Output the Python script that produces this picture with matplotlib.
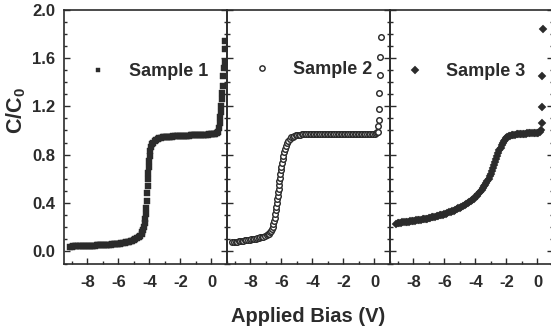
import matplotlib
matplotlib.use("Agg")
import matplotlib.pyplot as plt
from matplotlib.ticker import MultipleLocator

# ---------------- data ----------------
v1 = [-9.1, -9.0, -8.9, -8.8, -8.7, -8.6, -8.5, -8.4, -8.3, -8.2,
      -8.1, -8.0, -7.9, -7.8, -7.7, -7.6, -7.5, -7.4, -7.3, -7.2,
      -7.1, -7.0, -6.9, -6.8, -6.7, -6.6, -6.5, -6.4, -6.3, -6.2,
      -6.1, -6.0, -5.9, -5.8, -5.7, -5.6, -5.5, -5.4, -5.3, -5.2,
      -5.1, -5.0, -4.9, -4.8, -4.7, -4.6, -4.5, -4.45, -4.4, -4.35,
      -4.3, -4.27, -4.24, -4.21, -4.18, -4.15, -4.12, -4.09, -4.06, -4.03,
      -4.0, -3.97, -3.93, -3.88, -3.82, -3.75, -3.65, -3.55, -3.45, -3.35,
      -3.25, -3.15, -3.05, -2.95, -2.85, -2.75, -2.65, -2.55, -2.45, -2.35,
      -2.25, -2.15, -2.05, -1.95, -1.85, -1.75, -1.65, -1.55, -1.45, -1.35,
      -1.25, -1.15, -1.05, -0.95, -0.85, -0.75, -0.65, -0.55, -0.45, -0.35,
      -0.25, -0.15, -0.05, 0.05, 0.15, 0.25, 0.33, 0.4, 0.47, 0.52,
      0.56, 0.6, 0.63, 0.67, 0.7, 0.73, 0.77, 0.8, 0.84, 0.87,
      0.9]
c1 = [0.040, 0.040, 0.041, 0.041, 0.042, 0.042, 0.043, 0.043, 0.044, 0.044,
      0.045, 0.045, 0.046, 0.046, 0.047, 0.047, 0.048, 0.049, 0.050, 0.050,
      0.051, 0.052, 0.053, 0.054, 0.055, 0.056, 0.057, 0.058, 0.059, 0.060,
      0.062, 0.063, 0.065, 0.067, 0.069, 0.071, 0.074, 0.077, 0.080, 0.084,
      0.088, 0.093, 0.100, 0.108, 0.118, 0.130, 0.145, 0.160, 0.180, 0.205,
      0.235, 0.27, 0.31, 0.36, 0.42, 0.48, 0.54, 0.60, 0.65, 0.70,
      0.75, 0.79, 0.83, 0.86, 0.885, 0.90, 0.915, 0.925, 0.931, 0.936,
      0.939, 0.942, 0.944, 0.946, 0.947, 0.948, 0.949, 0.950, 0.951, 0.952,
      0.953, 0.953, 0.954, 0.955, 0.955, 0.956, 0.957, 0.957, 0.958, 0.959,
      0.959, 0.960, 0.961, 0.961, 0.962, 0.963, 0.963, 0.964, 0.965, 0.965,
      0.966, 0.967, 0.967, 0.968, 0.969, 0.972, 0.978, 0.99, 1.02, 1.06,
      1.11, 1.15, 1.20, 1.26, 1.31, 1.37, 1.45, 1.52, 1.57, 1.67,
      1.74]

v2 = [-9.15, -9.05, -8.95, -8.85, -8.75, -8.65, -8.55, -8.45, -8.35, -8.25,
      -8.15, -8.05, -7.95, -7.85, -7.75, -7.65, -7.55, -7.45, -7.35, -7.25,
      -7.15, -7.05, -6.95, -6.87, -6.8, -6.73, -6.67, -6.61, -6.56, -6.51,
      -6.47, -6.43, -6.39, -6.36, -6.33, -6.3, -6.27, -6.24, -6.21, -6.18,
      -6.15, -6.12, -6.09, -6.06, -6.03, -6.0, -5.96, -5.92, -5.87, -5.82,
      -5.76, -5.7, -5.63, -5.55, -5.47, -5.38, -5.28, -5.18, -5.08, -4.98,
      -4.88, -4.78, -4.68, -4.58, -4.48, -4.38, -4.28, -4.18, -4.08, -3.98,
      -3.88, -3.78, -3.68, -3.58, -3.48, -3.38, -3.28, -3.18, -3.08, -2.98,
      -2.88, -2.78, -2.68, -2.58, -2.48, -2.38, -2.28, -2.18, -2.08, -1.98,
      -1.88, -1.78, -1.68, -1.58, -1.48, -1.38, -1.28, -1.18, -1.08, -0.98,
      -0.88, -0.78, -0.68, -0.58, -0.48, -0.38, -0.28, -0.18, -0.08, 0.02,
      0.1, 0.16, 0.2, 0.24, 0.27, 0.3, 0.32, 0.34, 0.36, 0.39]
c2 = [0.075, 0.077, 0.079, 0.081, 0.083, 0.085, 0.087, 0.089, 0.091, 0.093,
      0.095, 0.097, 0.099, 0.101, 0.104, 0.106, 0.109, 0.112, 0.115, 0.118,
      0.122, 0.127, 0.133, 0.140, 0.148, 0.158, 0.170, 0.185, 0.203, 0.225,
      0.25, 0.28, 0.31, 0.34, 0.37, 0.40, 0.43, 0.46, 0.49, 0.52,
      0.55, 0.58, 0.61, 0.64, 0.67, 0.70, 0.73, 0.76, 0.79, 0.82,
      0.85, 0.875, 0.897, 0.915, 0.93, 0.942, 0.950, 0.956, 0.960, 0.963,
      0.965, 0.966, 0.967, 0.968, 0.968, 0.969, 0.969, 0.969, 0.970, 0.970,
      0.970, 0.970, 0.970, 0.970, 0.970, 0.970, 0.970, 0.970, 0.970, 0.970,
      0.970, 0.970, 0.970, 0.970, 0.970, 0.970, 0.970, 0.970, 0.970, 0.970,
      0.970, 0.970, 0.970, 0.970, 0.970, 0.970, 0.970, 0.970, 0.970, 0.970,
      0.970, 0.970, 0.970, 0.970, 0.970, 0.970, 0.970, 0.970, 0.970, 0.971,
      0.975, 0.985, 0.99, 1.035, 1.09, 1.18, 1.31, 1.46, 1.61, 1.77]

v3 = [-9.1, -9.0, -8.9, -8.8, -8.7, -8.6, -8.5, -8.4, -8.3, -8.2,
      -8.1, -8.0, -7.9, -7.8, -7.7, -7.6, -7.5, -7.4, -7.3, -7.2,
      -7.1, -7.0, -6.9, -6.8, -6.7, -6.6, -6.5, -6.4, -6.3, -6.2,
      -6.1, -6.0, -5.9, -5.8, -5.7, -5.6, -5.5, -5.4, -5.3, -5.2,
      -5.1, -5.0, -4.9, -4.8, -4.7, -4.6, -4.5, -4.4, -4.3, -4.2,
      -4.1, -4.0, -3.9, -3.8, -3.7, -3.6, -3.5, -3.43, -3.36, -3.29,
      -3.22, -3.15, -3.08, -3.01, -2.94, -2.87, -2.8, -2.73, -2.66, -2.59,
      -2.52, -2.45, -2.38, -2.31, -2.24, -2.17, -2.1, -2.02, -1.94, -1.85,
      -1.75, -1.65, -1.55, -1.45, -1.35, -1.25, -1.15, -1.05, -0.95, -0.85,
      -0.75, -0.65, -0.55, -0.45, -0.35, -0.25, -0.15, -0.05, 0.05, 0.15,
      0.22, 0.28, 0.3, 0.32, 0.33]
c3 = [0.230, 0.232, 0.235, 0.237, 0.240, 0.241, 0.243, 0.245, 0.247, 0.248,
      0.250, 0.252, 0.254, 0.256, 0.258, 0.260, 0.262, 0.264, 0.267, 0.269,
      0.272, 0.275, 0.278, 0.281, 0.284, 0.287, 0.290, 0.293, 0.297, 0.301,
      0.305, 0.309, 0.313, 0.317, 0.322, 0.327, 0.332, 0.337, 0.343, 0.349,
      0.355, 0.361, 0.368, 0.375, 0.381, 0.389, 0.397, 0.406, 0.415, 0.425,
      0.435, 0.447, 0.46, 0.474, 0.49, 0.507, 0.525, 0.538, 0.552, 0.567,
      0.584, 0.602, 0.622, 0.643, 0.665, 0.688, 0.712, 0.737, 0.762, 0.787,
      0.811, 0.835, 0.857, 0.877, 0.895, 0.91, 0.923, 0.935, 0.944, 0.951,
      0.956, 0.960, 0.963, 0.965, 0.967, 0.968, 0.970, 0.971, 0.972, 0.973,
      0.974, 0.975, 0.976, 0.977, 0.978, 0.979, 0.980, 0.981, 0.983, 0.987,
      1.0, 1.06, 1.19, 1.45, 1.84]

samples = ["Sample 1", "Sample 2", "Sample 3"]
xticks = [-8, -6, -4, -2, 0]
yticks = [0.0, 0.4, 0.8, 1.2, 1.6, 2.0]

# ---------------- style ----------------
INK = "#2b2b2b"
plt.rcParams.update({
    "font.family": ["Liberation Sans", "DejaVu Sans"],
    "font.weight": "bold",
    "mathtext.fontset": "custom",
    "mathtext.rm": "Liberation Sans:bold",
    "mathtext.bf": "Liberation Sans:bold",
    "mathtext.it": "Liberation Sans:bold",
    "text.color": INK,
    "axes.edgecolor": INK,
    "xtick.color": INK,
    "ytick.color": INK,
})

fig = plt.figure(figsize=(5.51, 3.34), dpi=100)
W, H = 551.0, 334.0
bottom = (H - 263.5) / H
height = 254.0 / H
pw = 163.0 / W
lefts = [64.0 / W, 227.0 / W, 390.0 / W]

series = [(v1, c1, dict(marker="s", ms=3.7, mfc=INK, mec=INK, mew=0.3)),
          (v2, c2, dict(marker="o", ms=4.0, mfc="white", mec=INK, mew=1.05)),
          (v3, c3, dict(marker="D", ms=4.3, mfc=INK, mec=INK, mew=0.3))]
leg_pos = [(0.10, 0.754), (0.107, 0.762), (0.043, 0.754)]

for i, (vx, cy, mk) in enumerate(series):
    ax = fig.add_axes([lefts[i], bottom, pw, height])
    ax.plot(vx, cy, linestyle="none", label=samples[i], **mk)
    ax.set_xlim(-9.5, 1.0)
    ax.set_ylim(-0.1, 2.0)
    ax.set_xticks(xticks)
    ax.set_xticklabels([f"{t:d}" for t in xticks])
    ax.xaxis.set_minor_locator(MultipleLocator(1))
    ax.set_yticks(yticks)
    ax.yaxis.set_minor_locator(MultipleLocator(0.1))
    ax.tick_params(which="both", direction="in", top=False, right=True,
                   width=1.0, labelsize=12)
    ax.tick_params(which="major", length=4)
    ax.tick_params(which="minor", length=2.5)
    ax.tick_params(axis="x", pad=8)
    ax.tick_params(axis="y", pad=6.5)
    if i == 0:
        ax.set_yticklabels([f"{t:.1f}" for t in yticks])
    else:
        ax.tick_params(axis="y", labelleft=False)
    for s in ax.spines.values():
        s.set_linewidth(1.2)
    ax.patch.set_alpha(0)
    ax.legend(loc="center left", bbox_to_anchor=leg_pos[i], frameon=False,
              borderpad=0, borderaxespad=0, handlelength=2.0, handletextpad=0.7,
              numpoints=1, fontsize=13, markerscale=0.95)

fig.text(308.5 / W, 1 - 317 / H, "Applied Bias (V)", ha="center", va="center",
         fontsize=14.5, fontweight="bold")
fig.text(16.7 / W, 1 - 110.7 / H, r"$\mathbf{C/C_0}$", ha="center", va="center",
         rotation=90, fontsize=15.5)

fig.savefig("out.png", dpi=100)
